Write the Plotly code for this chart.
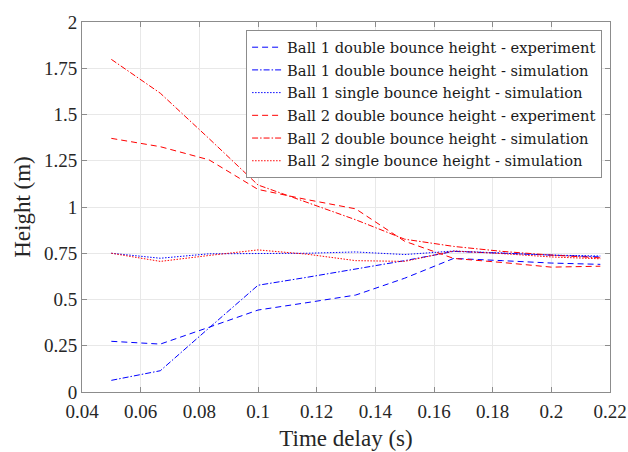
import plotly.graph_objects as go

# Time delay between drops (s), sampled at 1/60 s steps
time_delay = [0.05, 0.0667, 0.0833, 0.1, 0.1167, 0.1333, 0.15, 0.1667, 0.1833, 0.2, 0.2167]

ball1_double_exp = [0.274, 0.259, 0.35, 0.443, 0.483, 0.524, 0.615, 0.722, 0.71, 0.697, 0.69]
ball1_double_sim = [0.063, 0.115, 0.346, 0.577, 0.62, 0.664, 0.71, 0.76, 0.75, 0.738, 0.73]
ball1_single_sim = [0.75, 0.723, 0.747, 0.747, 0.75, 0.757, 0.743, 0.762, 0.752, 0.74, 0.735]
ball2_double_exp = [1.371, 1.326, 1.255, 1.095, 1.04, 0.99, 0.815, 0.722, 0.70, 0.675, 0.68]
ball2_double_sim = [1.798, 1.615, 1.37, 1.119, 1.025, 0.931, 0.826, 0.787, 0.76, 0.74, 0.725]
ball2_single_sim = [0.75, 0.706, 0.738, 0.768, 0.745, 0.71, 0.706, 0.762, 0.748, 0.73, 0.72]

# MATLAB-like line styles: '--', '-.', ':'
DASHED = "6px,4px"
DASHDOT = "6px,2px,1.5px,2px"
DOTTED = "1.5px,1.5px"

series = [
    ("Ball 1 double bounce height - experiment", ball1_double_exp, "#0000ff", DASHED),
    ("Ball 1 double bounce height - simulation", ball1_double_sim, "#0000ff", DASHDOT),
    ("Ball 1 single bounce height - simulation", ball1_single_sim, "#0000ff", DOTTED),
    ("Ball 2 double bounce height - experiment", ball2_double_exp, "#ff0000", DASHED),
    ("Ball 2 double bounce height - simulation", ball2_double_sim, "#ff0000", DASHDOT),
    ("Ball 2 single bounce height - simulation", ball2_single_sim, "#ff0000", DOTTED),
]

x_ticks = [0.04, 0.06, 0.08, 0.1, 0.12, 0.14, 0.16, 0.18, 0.2, 0.22]
x_tick_text = ["0.04", "0.06", "0.08", "0.1", "0.12", "0.14", "0.16", "0.18", "0.2", "0.22"]
y_ticks = [0, 0.25, 0.5, 0.75, 1, 1.25, 1.5, 1.75, 2]
y_tick_text = ["0", "0.25", "0.5", "0.75", "1", "1.25", "1.5", "1.75", "2"]

FONT = "Liberation Serif"
LEGEND_FONT = "DejaVu Serif"

fig = go.Figure()
for i, (name, values, color, dash) in enumerate(series):
    fig.add_trace(go.Scatter(
        x=time_delay, y=values, mode="lines", name=name,
        legendgroup=f"g{i}",
        line=dict(color=color, dash=dash, width=1),
    ))

axis_common = dict(
    showline=True, linecolor="#8c8c8c", linewidth=1, mirror="allticks",
    ticks="inside", ticklen=5, tickcolor="#8c8c8c",
    showgrid=True, gridcolor="#e8e8e8", gridwidth=1, zeroline=False,
    tickfont=dict(family=FONT, size=19, color="#262626"),
    automargin=False,
)

fig.update_layout(
    width=628, height=452,
    margin=dict(l=82, r=18, t=22, b=60),
    paper_bgcolor="white", plot_bgcolor="white",
    font=dict(family=FONT, color="#262626"),
    xaxis=dict(range=[0.04, 0.22], tickvals=x_ticks, ticktext=x_tick_text,
               ticklabelstandoff=2,
               title=dict(text="Time delay (s)", font=dict(family=FONT, size=23), standoff=9),
               **axis_common),
    yaxis=dict(range=[0, 2], tickvals=y_ticks, ticktext=y_tick_text,
               title=dict(text="Height (m)", font=dict(family=FONT, size=23), standoff=6),
               **axis_common),
    legend=dict(
        x=0.985, y=0.978, xanchor="right", yanchor="top",
        bgcolor="white", bordercolor="#8c8c8c", borderwidth=1,
        font=dict(family=LEGEND_FONT, size=14.7, color="#1a1a1a"),
        tracegroupgap=0.6, itemwidth=30,
    ),
    showlegend=True,
)

fig.write_html("out.html")
